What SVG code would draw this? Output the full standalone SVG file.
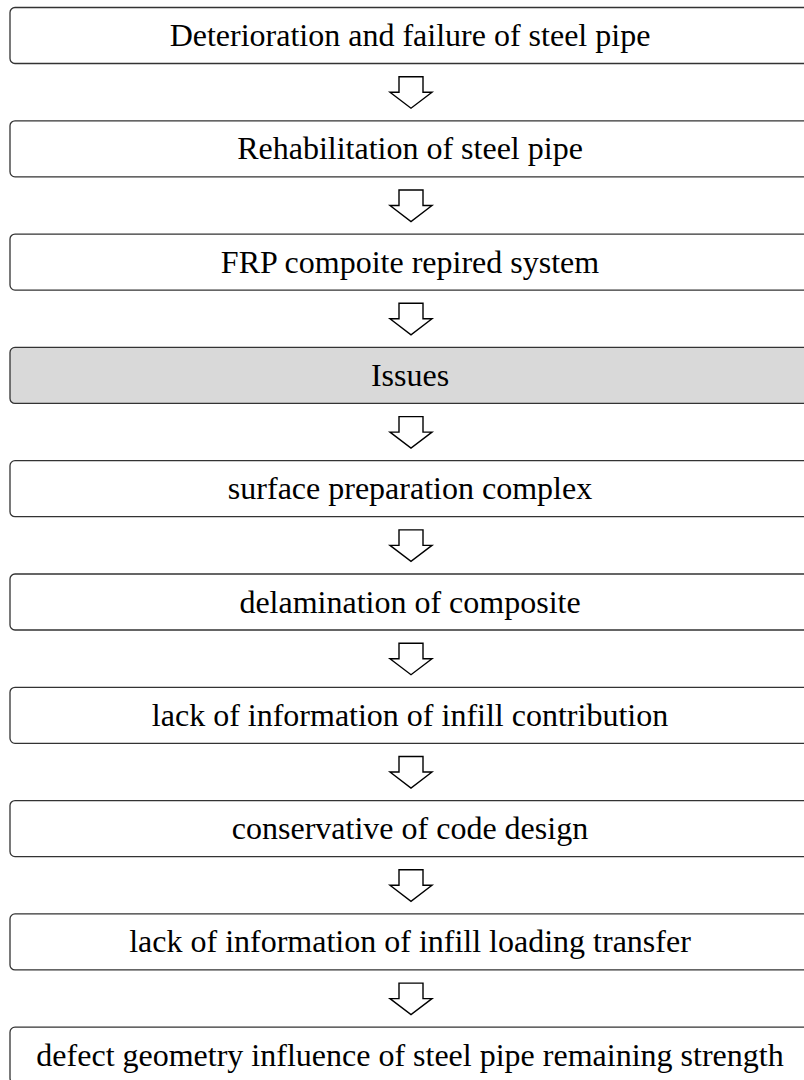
<svg xmlns="http://www.w3.org/2000/svg" width="804" height="1080" viewBox="0 0 804 1080">
<defs>
<style>
.box{fill:#ffffff;stroke:#333333;stroke-width:1.3}
.hl{fill:#d9d9d9}
.ar{fill:#ffffff;stroke:#000000;stroke-width:1.4;stroke-linejoin:miter}
.t{font-family:'Liberation Serif','Times New Roman',serif;font-size:32px;fill:#000000;text-anchor:middle}
</style>
<path id="arrow" class="ar" d="M-12,0 H12 V15.5 H21 L0,31.5 L-21,15.5 H-12 Z"/>
</defs>
<rect width="804" height="1080" fill="#ffffff"/>
<g id="connectors">
<use href="#arrow" x="411" y="76.7"/>
<use href="#arrow" x="411" y="190"/>
<use href="#arrow" x="411" y="303.3"/>
<use href="#arrow" x="411" y="416.6"/>
<use href="#arrow" x="411" y="529.9"/>
<use href="#arrow" x="411" y="643.2"/>
<use href="#arrow" x="411" y="756.5"/>
<use href="#arrow" x="411" y="869.8"/>
<use href="#arrow" x="411" y="983.1"/>
</g>
<g id="n1"><rect class="box" x="10" y="7.5" width="800" height="56" rx="5"/><text class="t" x="410" y="46">Deterioration and failure of steel pipe</text></g>
<g id="n2"><rect class="box" x="10" y="120.8" width="800" height="56" rx="5"/><text class="t" x="410" y="159.3">Rehabilitation of steel pipe</text></g>
<g id="n3"><rect class="box" x="10" y="234.1" width="800" height="56" rx="5"/><text class="t" x="410" y="272.6">FRP compoite repired system</text></g>
<g id="n4"><rect class="box hl" x="10" y="347.4" width="800" height="56" rx="5"/><text class="t" x="410" y="385.9">Issues</text></g>
<g id="n5"><rect class="box" x="10" y="460.7" width="800" height="56" rx="5"/><text class="t" x="410" y="499.2">surface preparation complex</text></g>
<g id="n6"><rect class="box" x="10" y="574" width="800" height="56" rx="5"/><text class="t" x="410" y="612.5">delamination of composite</text></g>
<g id="n7"><rect class="box" x="10" y="687.3" width="800" height="56" rx="5"/><text class="t" x="410" y="725.8">lack of information of infill contribution</text></g>
<g id="n8"><rect class="box" x="10" y="800.6" width="800" height="56" rx="5"/><text class="t" x="410" y="839.1">conservative of code design</text></g>
<g id="n9"><rect class="box" x="10" y="913.9" width="800" height="56" rx="5"/><text class="t" x="410" y="952.4">lack of information of infill loading transfer</text></g>
<g id="n10"><rect class="box" x="10" y="1027.2" width="800" height="56" rx="5"/><text class="t" x="410" y="1065.7">defect geometry influence of steel pipe remaining strength</text></g>
</svg>
